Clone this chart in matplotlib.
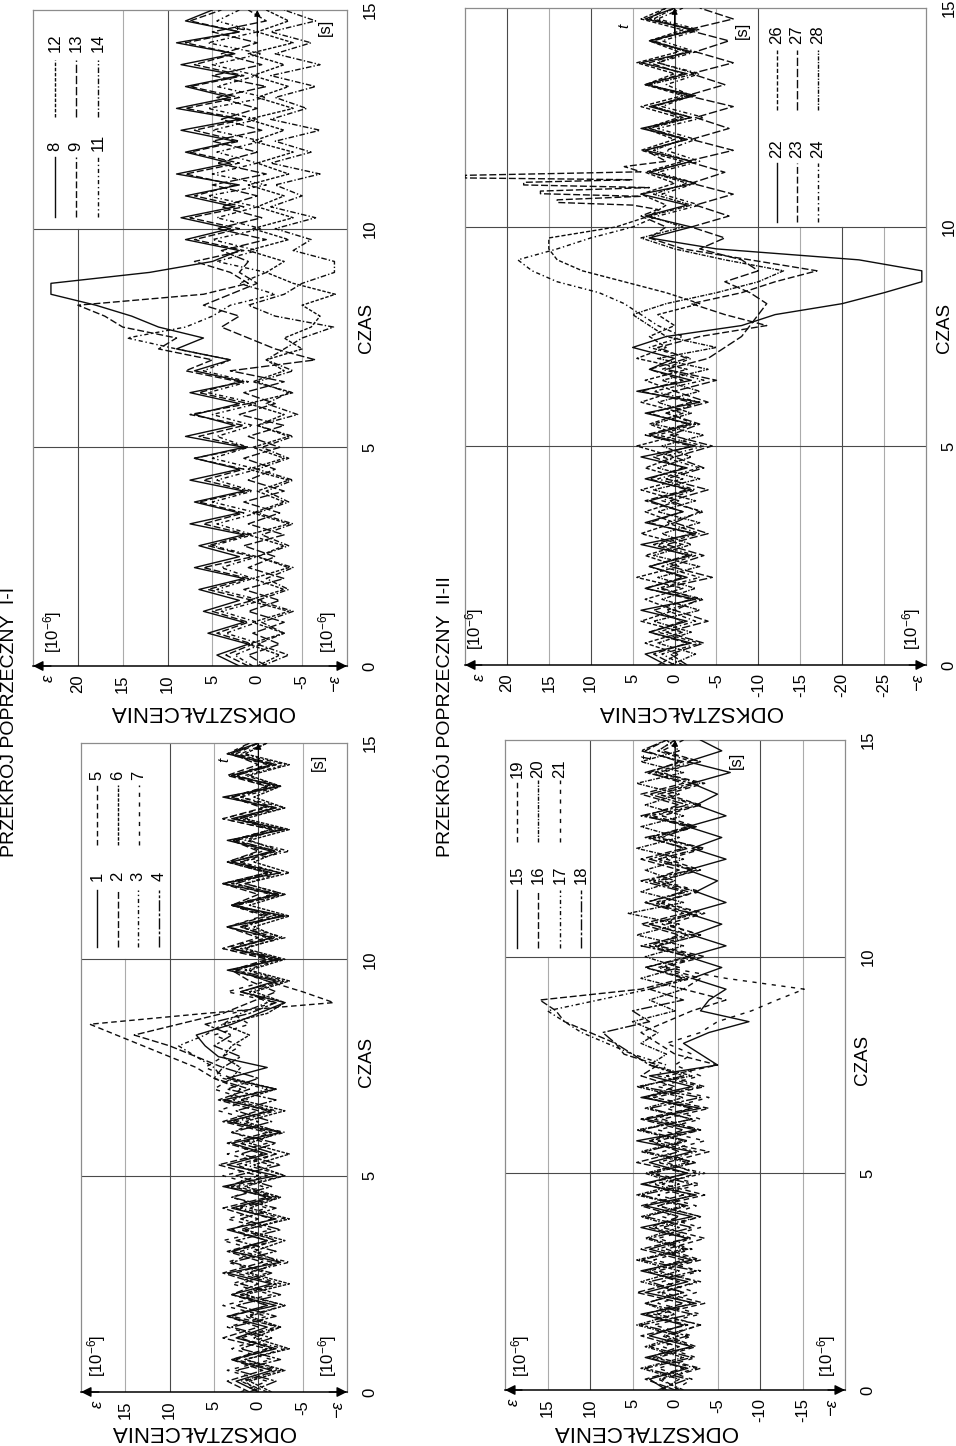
import numpy as np
import matplotlib.pyplot as plt
from matplotlib.lines import Line2D

# whole sheet is printed turned 90 deg, so strain runs right->left and time runs upward
plt.rcParams['font.family'] = ['Liberation Sans', 'DejaVu Sans']
plt.rcParams['mathtext.default'] = 'regular'
plt.rcParams['lines.scale_dashes'] = False

W, H = 956, 1446
DT = 0.25  # s, step of the values

# ---- PRZEKROJ I-I, sensors 1-7 (strain 1e-6) ----
e1 = [0, 2.5, -1.5, 3, -2, 2.5, -1, 3.5, -2, 3, -1.5, 3.5, -2.5, 3, -1, 3.5,
      -2, 3, -1.5, 4, -2, 3.5, -1, 3, -2.5, 3.5, -1.5, 4, -2, 3.5, -1, 4.5,
      6, 7, 3, 0, -3, 2, -2, 3.5, -2.5, 3, -1.5, 3.5, -3, 3, -2, 4,
      -2.5, 3, -1.5, 3.5, -3, 3, -2, 4, -2.5, 3, -1.5, 3.5, 0]
e2 = [1, 3.5, -0.5, 3, -1, 4, 0, 3.5, -1, 3, 0, 4, -0.5, 3.5, -1, 3,
      0, 4, -1, 3.5, 0, 4.5, -0.5, 3.5, -1, 4, 0, 4.5, 1, 5, 4, 7,
      10, 14, 9, 4, 1, -2, 1, 3, -1, 4, 0, 3.5, -1, 3, 0, 4,
      -1, 3.5, 0, 3, -1.5, 4, -0.5, 3, -1, 3.5, 0, 3, 1]
e3 = [-1, 2, -2.5, 1.5, -3, 2.5, -2, 1.5, -3, 2, -2.5, 1.5, -3.5, 2, -2, 1.5,
      -3, 2, -2.5, 2.5, -3, 1.5, -2, 2, -3, 2.5, -2, 3, -1, 4, 5, 7,
      9, 6, 4, 2, -1, 1, -3, 1.5, -2.5, 2, -3, 1.5, -2, 2.5, -3, 1.5,
      -2.5, 2, -3.5, 1.5, -2, 2.5, -3, 2, -2.5, 1.5, -3, 2, -1]
e4 = [1, -2, 2.5, -2.5, 2, -1.5, 3, -2, 2.5, -2.5, 2, -1.5, 3, -2, 2.5, -2.5,
      2, -2, 3, -1.5, 2.5, -2.5, 2, -2, 3, -1.5, 2.5, -2, 3.5, 0, 4, 2,
      5, 3, 6, 1, -2, 2, -2.5, 2.5, -2, 3, -1.5, 2, -2.5, 3, -2, 2.5,
      -1.5, 3, -2, 2.5, -2.5, 2, -1.5, 3, -2, 2.5, -2, 3, 0]
e5 = [0, 1.5, -2, 2.5, -1.5, 2, -2.5, 3, -1, 2, -2, 2.5, -1.5, 3, -2, 2,
      -1.5, 2.5, -2, 3, -1, 2.5, -2, 2, -1.5, 3, -1, 3.5, 2, 5, 7, 10,
      13, 16, 19, 6, -8.5, -5, -1, 2.5, -1.5, 3, -2, 2, -1.5, 2.5, -2.5, 3,
      -1, 2, -2, 3, -1.5, 2.5, -2, 2, -1, 3, -2, 2.5, 0]
e6 = [-1.5, 1, -3, 1.5, -3.5, 0.5, -2.5, 1, -3, 1.5, -3.5, 1, -2.5, 0.5, -3, 1.5,
      -3.5, 1, -2.5, 1.5, -3, 0.5, -3.5, 1, -2.5, 1.5, -3, 2, -2, 3, 2, 4,
      3, 1, 4, -1, -3, 0.5, -3.5, 1, -3, 1.5, -2.5, 0.5, -3.5, 1, -3, 1.5,
      -3.5, 0.5, -2.5, 1, -3.5, 1.5, -3, 0.5, -2.5, 1, -3.5, 1.5, -1]
e7 = [2, -1, 3.5, -1.5, 3, -0.5, 3.5, -1, 4, -1.5, 3, -1, 3.5, -0.5, 4, -1.5,
      3.5, -1, 3, -0.5, 4, -1.5, 3.5, -1, 3, 0, 4.5, 1, 5, 3, 6, 4,
      2, 5, 1, 3, -2, 3.5, -1, 3, -1.5, 4, -1, 3.5, -0.5, 3, -1.5, 4,
      -1, 3.5, -0.5, 3, -1.5, 4, -1, 3.5, -1.5, 3, -1, 3.5, 1]

# ---- PRZEKROJ I-I, sensors 8-14 ----
e8 = [2, 4.5, 1, 5.5, 1.5, 6, 2, 6.5, 1.5, 7, 2, 6.5, 1.5, 7.5, 2, 7,
      1.5, 7.5, 2, 7, 1.5, 8, 2.5, 7, 2, 7.5, 1.5, 7, 3, 9, 6, 11,
      14, 18, 23, 23, 12, 5, 2, 8, 3, 8.5, 2.5, 8, 2, 9, 3, 8,
      2.5, 8.5, 2, 9, 3, 8, 2, 8.5, 2.5, 9, 2, 8, 5]
e9 = [1, 3.5, 0.5, 4.5, 1, 5, 0.5, 5.5, 1, 6, 0.5, 5.5, 1, 6, 1.5, 6.5,
      1, 6, 1.5, 7, 1, 6.5, 1.5, 7.5, 1, 6.5, 2, 8, 5, 11, 9, 15,
      17, 20, 6, 1, 3, 7, 1.5, 7, 2, 7.5, 1.5, 7, 2.5, 8, 2, 7.5,
      2, 7, 1.5, 8, 2, 7.5, 1.5, 7, 2.5, 8, 2, 7.5, 4]
e11 = [0.5, 2.5, -0.5, 3.5, 0, 4, -0.5, 4.5, 0.5, 4, 0, 5, 0.5, 4.5, 0, 5,
       0.5, 4.5, 0, 5, 1, 4.5, 0.5, 5, 0, 5.5, 1, 6, 3, 9, 14.5, 8,
       5, 3, -2, 2, -1, 4.5, 0, 5, -0.5, 4.5, 0, 5.5, -1, 5, 0, 4.5,
       -0.5, 5, 0, 5.5, -1, 4.5, 0, 5, -0.5, 5.5, 0, 4.5, 2]
e12 = [0, -2.5, 1, -3, 0.5, -3.5, 1, -3, 0.5, -3.5, 0, -3, 1, -3.5, 0.5, -3,
       0, -3.5, 1, -3, 0.5, -3.5, 0, -3, 1, -4, 0.5, -3, -1, -5, -3, -6,
       -7, -5, -8.7, -4, -1, -3, 1, -3.5, 0.5, -4, 0, -3, 1, -3.5, 0, -4,
       0.5, -3, 1, -4, 0, -3.5, 0.5, -3, 1, -4, 0, -3.5, -1]
e13 = [-1, 1, -2.5, 0.5, -3, 1, -2.5, 1.5, -3, 1, -2, 1.5, -3, 1, -2.5, 1.5,
       -3, 1, -2, 1.5, -2.5, 1, -3, 2, -2, 1.5, -3, 3, -6.5, -2, 1, 4,
       2, 6, 3, 0, 2, 1, 4, -1, 4.5, -0.5, 4, 0, 5, -1, 4.5, 0,
       5, -0.5, 4, 0, 4.5, -1, 5, -0.5, 4, 0, 5, -1, 1]
e14 = [-0.5, -3.5, 0, -3, -0.5, -4, 0, -3.5, -1, -4, 0, -3.5, -0.5, -4, 0, -3.5,
       -1, -4, 0, -3.5, -0.5, -4, 0, -4.5, -1, -3.5, 0, -4, -1, -3, -5, -8.5,
       -2, 1, -3, -5, -8.6, -8.6, -4, -6, -2, -6.5, -1.5, -5, -2, -7, -1.5, -6,
       -2, -7, -1.5, -5.5, -2, -6.5, -1.5, -7, -2, -6, -1.5, -6.5, -3]

# ---- PRZEKROJ II-II, sensors 15-21 ----
e15 = [1, 3, -1.5, 3.5, -2, 3, -1, 4, -2.5, 3.5, -1.5, 4, -2, 3, -1.5, 4,
       -2, 3.5, -2.5, 4, -1.5, 3, -2, 4.5, -2.5, 3.5, -3, 4, -2, 3, -5, -3,
       -1, -4, -8.7, -3, -4, -6, -2, -5.5, -1.5, -6, -2, -5.5, -1.5, -6, -2.5, -5,
       -1.5, -6, -2, -5.5, -1.5, -6, -2.5, -5, -2, -6.5, -1.5, -5.5, -3]
e16 = [0, 3.5, -1, 3, -0.5, 4, -1.5, 3.5, -1, 4.5, -0.5, 3.5, -1, 4, -1.5, 3,
       -0.5, 4, -1, 3.5, -1.5, 4.5, -0.5, 3, -1, 4, -2, 3.5, 0, 4, 2, 6,
       7, 10, 13, 14, 15.9, 4, -1, 3.5, -1.5, 3, -0.5, 4, -1, 3.5, -1.5, 3,
       -0.5, 4, -1, 3, -1.5, 3.5, -0.5, 4, -1, 3, -0.5, 3.5, 1]
e17 = [-1, 2, -2.5, 2.5, -2, 1.5, -3, 2.5, -2, 2, -3, 3, -2.5, 2, -2, 2.5,
       -3, 2, -2, 2.5, -3.5, 2, -2.5, 3, -3, 2.5, -2, 3.5, -3, 2, 1, 5,
       8, 11, 13, 15, 9, 3, -2, 2, -2.5, 2.5, -2, 3, -3, 2, -2.5, 2.5,
       -2, 2, -3, 2.5, -2, 3, -2.5, 2, -3, 2.5, -2, 2, 0]
e18 = [2, -1.5, 3.5, -2, 3, -1.5, 4, -2, 3.5, -1, 3, -2.5, 4, -1.5, 3, -2,
       3.5, -1.5, 4, -2, 3, -2.5, 3.5, -1.5, 4, -2, 3, -3, 4, -1, 3, 5,
       7, 8.5, 3, 5, -1, 3, -1.5, 3.5, -2, 4, -1.5, 3, -2, 3.5, -1, 4,
       -2, 3, -1.5, 3.5, -2.5, 4, -1.5, 3, -2, 3.5, -1, 4, 1]
e19 = [-0.5, 1.5, -3, 2, -2.5, 1, -3, 2, -3.5, 1.5, -2.5, 2, -3, 1, -3.5, 1.5,
       -3, 2, -3.5, 1.5, -2.5, 1, -4, 2, -3, 1.5, -4, 2.5, -3.5, 1, -5, 0,
       2, 4, 1, -2, -6, -1, -3, 1.5, -3.5, 2, -3, 1, -3.5, 1.5, -2.5, 2,
       -3, 1, -3.5, 2, -2.5, 1.5, -3, 1, -3.5, 2, -3, 1.5, -1]
e20 = [1.5, -0.5, 4, -1, 3.5, -0.5, 4.5, 0, 3.5, -1, 4, -0.5, 4.5, -1, 3.5, -0.5,
       4, -1, 4.5, -0.5, 3.5, -1.5, 4, -1, 4.5, -2, 3.5, -1, 4.5, -2, 3, 1,
       4, 2, 5, 0, 3, -1, 4, -0.5, 3.5, -1, 4.5, -0.5, 5.5, -1, 4, 0,
       3.5, -1, 4.5, -0.5, 4, -1, 3.5, -0.5, 4.5, -1, 4, -0.5, 1]
e21 = [0, -2, 2, -2.5, 1.5, -2, 2.5, -3, 2, -2.5, 1.5, -3, 2.5, -2, 2, -3,
       1.5, -2.5, 2, -3, 2.5, -2, 1.5, -3.5, 2, -3, 1, -4, 2, -3, 0, -2,
       1, -3, -5, -9, -12, -15.2, -6, 1, -2.5, 2, -3, 1.5, -2, 2.5, -3, 1.5,
       -2.5, 2, -3, 1.5, -2, 2.5, -3, 2, -2.5, 1.5, -3, 2, 0]

# ---- PRZEKROJ II-II, sensors 22-28 ----
e22 = [1, 3.5, -2, 3, -1.5, 4, -2.5, 3.5, -1.5, 3, -2, 4, -2.5, 3.5, -1, 3,
       -2, 3.5, -1.5, 4, -2.5, 3, -2, 3.5, -3, 4.5, -2, 3, 0, 5, 1, -8,
       -12, -20, -25, -29.5, -29.5, -22, -5, 3, -2, 3.5, -1.5, 4, -2.5, 3, -2, 3.5,
       -1.5, 4, -2, 3, -2.5, 3.5, -1.5, 4, -2, 3, -2.5, 3.5, 0]
# sensor 23 has short impulses near 11 s, so it gets its own time points there
e23_a = [0, 2.5, -1.5, 3, -1, 2.5, -2, 3.5, -1, 3, -1.5, 2.5, -2, 3, -1, 3.5,
         -1.5, 3, -1, 2.5, -2, 3.5, -1.5, 3, -2, 4, -1, 3, -1.5, 2, -3, -11,
         -6, -2, -8, -12, -17, -9, -1, 3, 1, 4]
t23_spk = [10.4, 10.5, 10.56, 10.62, 10.7, 10.76, 10.82, 10.9, 10.96, 11.02,
           11.08, 11.12, 11.18, 11.26, 11.38]
e23_spk = [2, 5, 14, 14, 4, 16, 16, 3, 18, 18, 5, 25, 25, 4, 6]
e23_b = [1, 3.5, -1.5, 3, -1, 2.5, -2, 3.5, -1, 3, -1.5, 2.5, -2, 3, 1]
e24 = [-1, 1.5, -3, 2, -2.5, 1, -3.5, 2, -3, 1.5, -2.5, 2, -3, 1, -3.5, 1.5,
       -2.5, 2, -3, 1.5, -3.5, 2, -2.5, 1, -3, 2.5, -3.5, 1.5, -2, 3, -1, 2,
       4, 6, 9, 14, 17, 18.7, 14, 10, 5, 2, -3, 1.5, -2.5, 2, -3, 1,
       -2.5, 2, -3.5, 1.5, -2, 1, -3, 2, -2.5, 1.5, -3, 2, -1]
e26 = [2, -0.5, 3.5, -1, 4, 0, 3.5, -1, 4.5, -0.5, 3.5, -1, 4, 0, 3.5, -0.5,
       4, -1, 3.5, 0, 4.5, -0.5, 3, -1, 4, 0, 3.5, -1.5, 4.5, 1, 3, 0,
       2, -3, 1, 6, 11, 14, 15, 15, 7, 3, 1, 4, 0, 3.5, -1, 4,
       0, 3.5, -0.5, 4, -1, 3.5, 0, 4.5, -0.5, 3, -1, 4, 1]
e27 = [-1.5, 0.5, -3.5, 1, -4, 0, -3, 1.5, -4.5, 0.5, -3.5, 1, -4, 0, -3, 0.5,
       -4, 1, -3.5, 0, -4.5, 0.5, -3, 1, -4, 0, -5, 1, -4, -6, -8, -9,
       -10, -11, -9, -6, -10, -8, -3, -6, -2, -6.5, -2.5, -7, -2, -6, -1.5, -7,
       -2, -6.5, -2.5, -7, -1.5, -6, -2, -7, -2.5, -6.5, -1.5, -7, -3]
e28 = [0.5, -2.5, 2, -2, 2.5, -3, 1.5, -2.5, 2, -3, 2.5, -2, 1.5, -3, 2, -2.5,
       2.5, -3, 2, -2, 1.5, -3.5, 2.5, -2, 2, -3, 1.5, -4, 2, -5, 1, 3,
       5, 1, -5, -10, -13, -6, 0, 4, -1, 3, -2, 2.5, -1.5, 3, -2, 2.5,
       -1, 3, -2, 2.5, -1.5, 3, -2.5, 2, -1.5, 3, -2, 2.5, 0]


def grid_t(v, t0=0.0):
    return t0 + np.arange(len(v)) * DT


t23 = np.concatenate([grid_t(e23_a), t23_spk, grid_t(e23_b, 11.5)])
e23 = np.concatenate([e23_a, e23_spk, e23_b])

styles = {
    '1': '-', '2': (0, (5, 2)), '3': (0, (3, 2, 1, 2)), '4': (0, (8, 1.5, 2, 1.5)),
    '5': (0, (4, 2.5)), '6': (0, (2.5, 1)), '7': (0, (3, 4)),
    '8': '-', '9': (0, (5, 2)), '11': (0, (3, 2, 1, 2)), '12': (0, (2.5, 1.2)),
    '13': (0, (6, 2)), '14': (0, (4, 1.5, 1, 1.5)),
    '15': '-', '16': (0, (5, 2)), '17': (0, (3, 2, 1, 2)), '18': (0, (8, 1.5, 2, 1.5)),
    '19': (0, (4, 2.5)), '20': (0, (3, 1, 1, 1)), '21': (0, (3, 4)),
    '22': '-', '23': (0, (5, 2)), '24': (0, (3, 2, 1, 2)), '26': (0, (3, 1.5)),
    '27': (0, (6, 2)), '28': (0, (3, 1, 1, 1)),
}

panels = [
    dict(box=(81, 743, 347, 1392), xlim=(20, -10), cell=(20, 10),
         series=[('1', e1), ('2', e2), ('3', e3), ('4', e4), ('5', e5), ('6', e6), ('7', e7)],
         ticks=[15, 10, 5, 0, -5], eps=(18.2, -8.9), tlab=3.8,
         legend=[([97, 118, 138, 159], 947, 890, 881, ['1', '2', '3', '4']),
                 ([97, 118, 139], 845, 785, 780, ['5', '6', '7'])],
         ylab=(203, 1431), czas=(366, 1062), sec=(318, 762), unit=[(97, 1377), (328, 1377)]),
    dict(box=(33, 10, 347, 666), xlim=(25, -10), cell=(25, 15),
         series=[('8', e8), ('9', e9), ('11', e11), ('12', e12), ('13', e13), ('14', e14)],
         ticks=[20, 15, 10, 5, 0, -5], eps=(23.3, -8.6), tlab=1.8,
         legend=[([55, 76, 98], 217, 157, 151, ['8', '9', '11']),
                 ([55, 76, 98], 117, 60, 52, ['12', '13', '14'])],
         ylab=(202, 711), czas=(367, 328), sec=(325, 27), unit=[(53, 653), (328, 653)]),
    dict(box=(505, 740, 845, 1390), xlim=(20, -20), cell=(20, 10),
         series=[('15', e15), ('16', e16), ('17', e17), ('18', e18), ('19', e19), ('20', e20), ('21', e21)],
         ticks=[15, 10, 5, 0, -5, -10, -15], eps=(19.0, -18.4), tlab=3.2,
         legend=[([517, 538, 560, 581], 948, 890, 884, ['15', '16', '17', '18']),
                 ([517, 538, 560], 842, 780, 778, ['19', '20', '21'])],
         ylab=(645, 1431), czas=(863, 1060), sec=(736, 760), unit=[(521, 1377), (827, 1377)]),
    dict(box=(465, 8, 926, 665), xlim=(25, -30), cell=(-10, -30),
         series=[('22', e22), ('23', (t23, e23)), ('24', e24), ('26', e26), ('27', e27), ('28', e28)],
         ticks=[20, 15, 10, 5, 0, -5, -10, -15, -20, -25], eps=(23.3, -29.0), tlab=6.0,
         legend=[([777, 797, 818], 222, 163, 158, ['22', '23', '24']),
                 ([777, 797, 818], 110, 50, 44, ['26', '27', '28'])],
         ylab=(690, 711), czas=(945, 328), sec=(742, 30), unit=[(475, 650), (912, 650)]),
]

DARK = '#4a4a4a'
LIGHT = '#ababab'
INK = '#0d0d0d'


def fx(x):
    return x / W


def fy(y):
    return 1 - y / H


fig = plt.figure(figsize=(W / 100, H / 100), dpi=100)

for p in panels:
    x0, y0, x1, y1 = p['box']
    ax = fig.add_axes([fx(x0), fy(y1), (x1 - x0) / W, (y1 - y0) / H])
    ax.set_xlim(*p['xlim'])
    ax.set_ylim(0, 15)
    lo, hi = min(p['xlim']), max(p['xlim'])
    clo, chi = min(p['cell']), max(p['cell'])

    # grid, cut away inside the legend cell
    for g in range(-30, 31, 5):
        if lo < g < hi:
            top = 10 / 15 if clo < g < chi else 1
            ax.axvline(g, ymin=0, ymax=top, color=DARK if g % 10 == 0 else LIGHT,
                       lw=0.8, zorder=1)
    for tt in (5, 10):
        ax.axhline(tt, color=DARK, lw=0.8, zorder=1)

    for name, ser in p['series']:
        if isinstance(ser, tuple):
            tt, vv = ser
        else:
            tt, vv = grid_t(ser), ser
        ax.plot(vv, tt, color=INK, lw=1.0, ls=styles[name], zorder=3)

    # strain ticks below, time ticks at the right, all turned like the page
    xt = [p['eps'][0]] + p['ticks'] + [p['eps'][1]]
    ax.set_xticks(xt)
    labs = ax.set_xticklabels(['ε'] + [str(v) for v in p['ticks']] + ['−ε'])
    labs[0].set_style('italic')
    labs[-1].set_style('italic')
    ax.set_yticks([0, 5, 10, 15])
    ax.set_yticklabels(['0', '5', '10', '15'])
    ax.yaxis.tick_right()
    ax.tick_params(axis='both', length=0, labelsize=12)
    ax.tick_params(axis='x', labelrotation=90, pad=6)
    ax.tick_params(axis='y', labelrotation=90, pad=11)
    for lbl in ax.get_yticklabels():
        lbl.set_va('center')

    for s in ('top', 'left', 'right'):
        ax.spines[s].set_color('#8c8c8c')
        ax.spines[s].set_linewidth(0.9)
    ax.spines['bottom'].set_color('black')
    ax.spines['bottom'].set_linewidth(1.1)

    # arrows of the strain axis and of the time axis
    ax.annotate('', xy=(hi, 0), xytext=(hi - 2, 0), annotation_clip=False,
                arrowprops=dict(arrowstyle='-|>', color='k', lw=1, mutation_scale=15,
                                shrinkA=0, shrinkB=0))
    ax.annotate('', xy=(lo, 0), xytext=(lo + 2, 0), annotation_clip=False,
                arrowprops=dict(arrowstyle='-|>', color='k', lw=1, mutation_scale=15,
                                shrinkA=0, shrinkB=0))
    ax.annotate('', xy=(0, 15), xytext=(0, 14.4), annotation_clip=False,
                arrowprops=dict(arrowstyle='-|>', color='k', lw=0.8, mutation_scale=9,
                                shrinkA=0, shrinkB=0), zorder=4)
    ax.text(p['tlab'], 14.6, 't', rotation=90, style='italic', fontsize=11,
            ha='center', va='center', zorder=4)

    # legend drawn by hand in its grid cell
    for xs, yb, yt, yl, names in p['legend']:
        for x, name in zip(xs, names):
            fig.add_artist(Line2D([fx(x), fx(x)], [fy(yb), fy(yt)], transform=fig.transFigure,
                                  color=INK, lw=1.0, ls=styles[name]))
            fig.text(fx(x), fy(yl), name, rotation=90, ha='center', va='bottom', fontsize=12)

    fig.text(fx(p['ylab'][0]), fy(p['ylab'][1]), 'ODKSZTAŁCENIA', rotation=180,
             ha='center', va='center', fontsize=16)
    fig.text(fx(p['czas'][0]), fy(p['czas'][1]), 'CZAS', rotation=90,
             ha='center', va='center', fontsize=13.5)
    fig.text(fx(p['sec'][0]), fy(p['sec'][1]), '[s]', rotation=90,
             ha='center', va='center', fontsize=12)
    for ux, uy in p['unit']:
        fig.text(fx(ux), fy(uy), '[10$^{-6}$]', rotation=90, ha='center', va='bottom', fontsize=12)

fig.text(fx(10), fy(857), 'PRZEKRÓJ POPRZECZNY  I-I', rotation=90, ha='center', va='bottom', fontsize=14)
fig.text(fx(446), fy(857), 'PRZEKRÓJ POPRZECZNY  II-II', rotation=90, ha='center', va='bottom', fontsize=14)

fig.savefig('out.png', dpi=100, facecolor='white')
